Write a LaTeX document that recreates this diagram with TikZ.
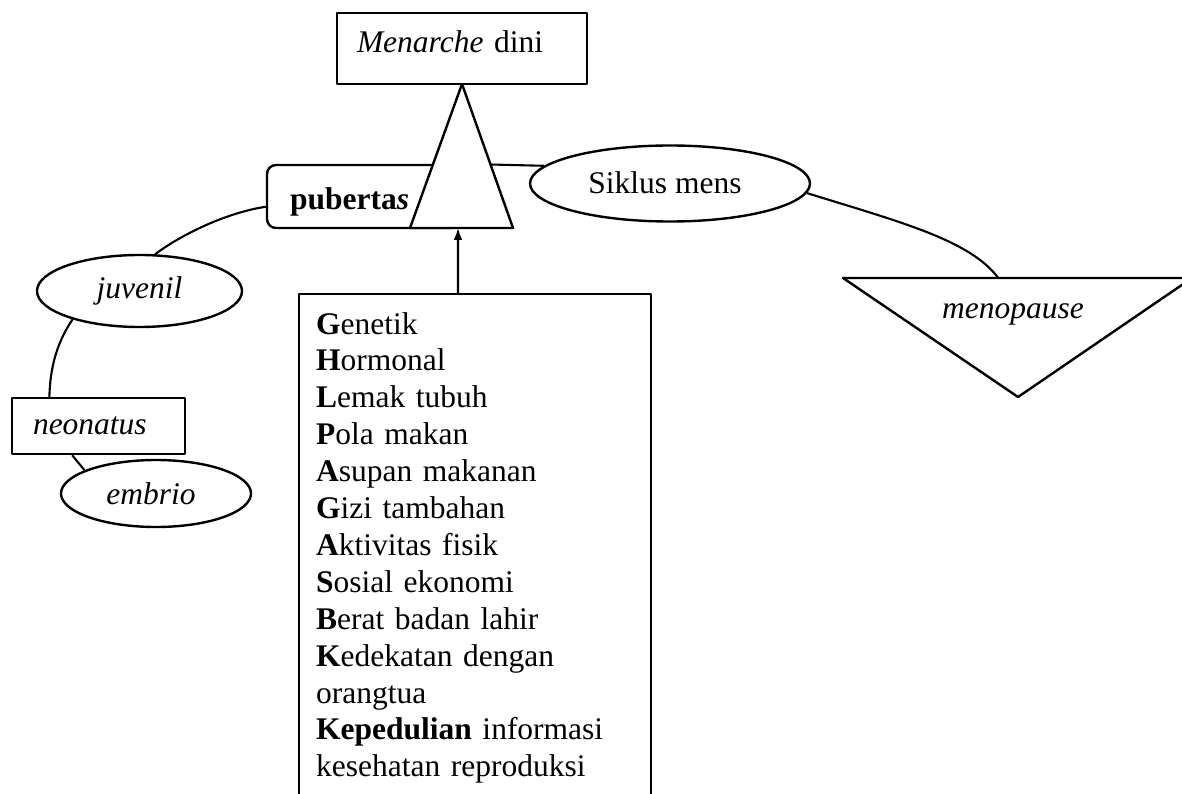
\documentclass[tikz,border=0pt]{standalone}
\usepackage{fontspec}
\setmainfont{Liberation Serif}
\usetikzlibrary{shapes.geometric,calc,arrows.meta}
\begin{document}
\begin{tikzpicture}[x=1pt,y=-1pt,
  font=\fontsize{31.5}{36.9}\selectfont,
  ln/.style={line width=2.4pt, line join=round},
  cn/.style={line width=2.1pt},
  sq/.style={draw, ln, rectangle, inner sep=0pt},
  ov/.style={draw, ln, ellipse, inner sep=0pt}]
\useasboundingbox (0,0) rectangle (1182,794);

% pubertas box and its line to Siklus mens
\node[sq, rounded corners=9pt, minimum width=193, minimum height=63, text width=147,
  inner xsep=23, align=left, text height=27pt, text depth=0pt] (pub) at (363.5,196.5)
  {\textbf{puberta\textit{s}}};
\node[ov, minimum width=280, minimum height=76, text height=21pt, text depth=0pt,
  xshift=0pt] (sik) at (670,183.5) {\hspace*{-10pt}Siklus mens};
\draw[cn] (pub.north east) -- (sik.172);

% triangle under Menarche dini
\coordinate (tA) at (462,84);
\coordinate (tL) at (410,228);
\coordinate (tR) at (513,228);
\draw[ln, fill=white] (tA) -- (tR) -- (tL) -- cycle;
\node[sq, fill=white, minimum width=250, minimum height=71, text width=210, inner xsep=20,
  align=left, text height=21pt, text depth=12pt] (men) at (462,48.5) {\textit{Menarche} dini};

% left chain
\node[ov, minimum width=205, minimum height=72] (juv) at (139.5,291) {\textit{juvenil}};
\node[sq, minimum width=173, minimum height=56, text width=131, inner xsep=21, align=left]
  (neo) at (98.5,426) {\textit{neonatus}};
\node[ov, minimum width=190, minimum height=67] (emb) at (156,493.5) {\hspace*{-10pt}\textit{embrio}};
\draw[cn] (juv.67) .. controls (185,232) and (230,212) .. (pub.186);
\draw[cn] (juv.203) .. controls (55,345) and (50,372) .. ($(neo.north west)!0.22!(neo.north east)$);
\draw[cn] ($(neo.south west)!0.35!(neo.south east)$) -- (emb.162);

% factors box
\node[sq, anchor=north west, text width=318, inner xsep=17, inner ysep=18, align=left]
  (fac) at (298,293) {%
\textbf{G}enetik\\
\textbf{H}ormonal\\
\textbf{L}emak tubuh\\
\textbf{P}ola makan\\
\textbf{A}supan makanan\\
\textbf{G}izi tambahan\\
\textbf{A}ktivitas fisik\\
\textbf{S}osial ekonomi\\
\textbf{B}erat badan lahir\\
\textbf{K}edekatan dengan\\
orangtua\\
\textbf{Kepedulian} informasi\\
kesehatan reproduksi};
\draw[cn, -{Latex[length=12pt,width=9pt]}] ($(fac.north west)+(160,0)$) -- ($(tL)!0.466!(tR)$);

% menopause
\coordinate (mL) at (843,278);
\coordinate (mR) at (1192,278);
\coordinate (mB) at (1018,397);
\draw[ln] (mL) -- (mR) -- (mB) -- cycle;
\node (mp) at (1013,314) {\textit{menopause}};
\draw[cn] (sik.-4) .. controls (900,222) and (970,240) .. ($(mL)!0.445!(mR)$);
\end{tikzpicture}
\end{document}
